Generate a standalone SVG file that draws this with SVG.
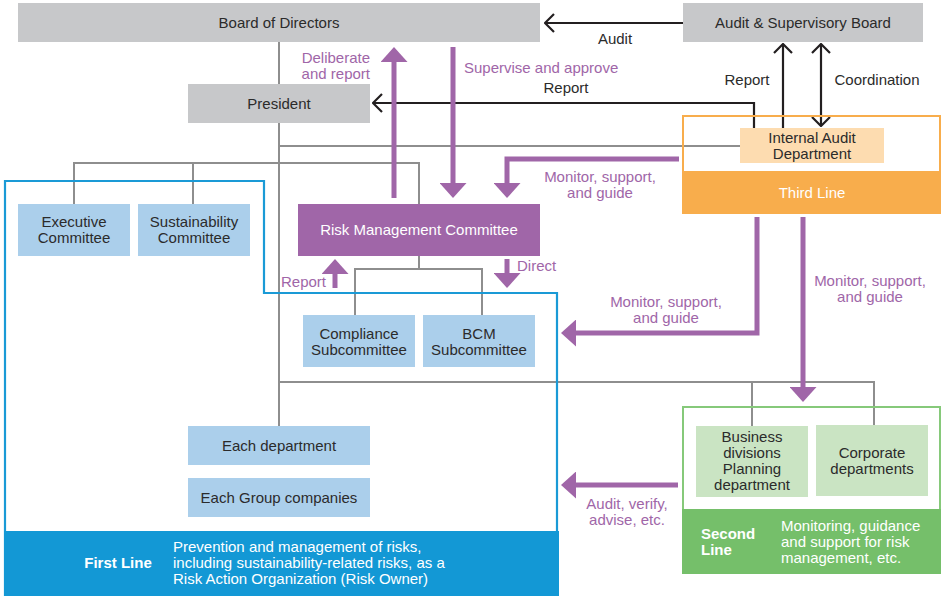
<svg xmlns="http://www.w3.org/2000/svg" width="941" height="596" viewBox="0 0 941 596">
<defs>
<style>
text{font-family:"Liberation Sans",Arial,sans-serif;font-size:15px;fill:#2b2b2b;text-anchor:middle}
.w{fill:#fff}
.p{fill:#a066a8}
.b{font-weight:bold}
.l{text-anchor:start}
.r{text-anchor:end}
.g{fill:#c7c8ca}
.lb{fill:#abcfeb}
.lg{fill:#cae4c3}
.gl{stroke:#8e8e8e;stroke-width:2;fill:none}
.bk{stroke:#231f20;stroke-width:2.2;fill:none}
.pa{stroke:#a066a8;stroke-width:5;fill:none;marker-end:url(#tri)}
</style>
<marker id="chev" viewBox="0 0 11 20" refX="10" refY="10" markerWidth="11" markerHeight="20" markerUnits="userSpaceOnUse" orient="auto-start-reverse">
<path d="M1,1 L10,10 L1,19" fill="none" stroke="#231f20" stroke-width="2.2"/>
</marker>
<marker id="tri" viewBox="0 0 15 27" refX="5" refY="13.5" markerWidth="15" markerHeight="27" markerUnits="userSpaceOnUse" orient="auto">
<path d="M0,0 L15,13.5 L0,27 Z" fill="#a066a8"/>
</marker>
</defs>
<rect width="941" height="596" fill="#fff"/>

<g id="connectors">
<path class="gl" d="M279,42 V426"/>
<path class="gl" d="M279,146 H740"/>
<path class="gl" d="M74,204 V163 H419 V204 M193,163 V204"/>
<path class="gl" d="M419,256 V269 M355,315 V269 H482 V315"/>
<path class="gl" d="M279,382 H874 V426 M752,382 V426"/>
<path class="bk" d="M683,23 H545" marker-end="url(#chev)"/>
<path class="bk" d="M754,128 V103 H373" marker-end="url(#chev)"/>
<path class="bk" d="M783,128 V44" marker-end="url(#chev)"/>
<path class="bk" d="M821,44 V126" marker-start="url(#chev)" marker-end="url(#chev)"/>
<path class="pa" d="M394,198 V57"/>
<path class="pa" d="M453,47 V188"/>
<path class="pa" d="M679,159 H507 V188"/>
<path class="pa" d="M335,288 V269"/>
<path class="pa" d="M507,259 V278"/>
<path class="pa" d="M757,217 V333 H571"/>
<path class="pa" d="M803,217 V392"/>
<path class="pa" d="M678,485 H571"/>
</g>

<g id="first-line">
<path d="M5,596 V181 H264 V293 H557 V596" fill="none" stroke="#1a9ad6" stroke-width="2.2"/>
<rect x="4" y="531" width="555" height="65" fill="#1398d5"/>
<text class="w b" x="118" y="568">First Line</text>
<text class="w l" x="173" y="552">Prevention and management of risks,</text>
<text class="w l" x="173" y="568">including sustainability-related risks, as a</text>
<text class="w l" x="173" y="584">Risk Action Organization (Risk Owner)</text>
</g>

<g id="third-line">
<rect x="683" y="116" width="257" height="97" fill="none" stroke="#f8ad4c" stroke-width="2"/>
<rect x="682" y="171" width="259" height="43" fill="#f8ad4c"/>
<text class="w" x="812" y="198">Third Line</text>
</g>

<g id="second-line">
<rect x="683" y="407" width="257" height="166" fill="none" stroke="#86c97a" stroke-width="2"/>
<rect x="682" y="509" width="259" height="65" fill="#75bf6a"/>
<text class="w b l" x="701" y="539">Second</text>
<text class="w b l" x="701" y="555">Line</text>
<text class="w l" x="781" y="531">Monitoring, guidance</text>
<text class="w l" x="781" y="547">and support for risk</text>
<text class="w l" x="781" y="563">management, etc.</text>
</g>

<g id="board"><rect class="g" x="18" y="3" width="522" height="39"/><text x="279" y="28">Board of Directors</text></g>
<g id="asb"><rect class="g" x="683" y="3" width="240" height="39"/><text x="803" y="28">Audit &amp; Supervisory Board</text></g>
<g id="president"><rect class="g" x="188" y="84" width="182" height="39"/><text x="279" y="109">President</text></g>
<g id="internal-audit"><rect x="740" y="128" width="144" height="35" fill="#fddcb0"/><text x="812" y="143">Internal Audit</text><text x="812" y="159">Department</text></g>
<g id="executive"><rect class="lb" x="18" y="204" width="112" height="52"/><text x="74" y="227">Executive</text><text x="74" y="243">Committee</text></g>
<g id="sustainability"><rect class="lb" x="138" y="204" width="112" height="52"/><text x="194" y="227">Sustainability</text><text x="194" y="243">Committee</text></g>
<g id="rmc"><rect x="298" y="204" width="242" height="52" fill="#a066a8"/><text class="w" x="419" y="235">Risk Management Committee</text></g>
<g id="compliance"><rect class="lb" x="303" y="315" width="112" height="52"/><text x="359" y="339">Compliance</text><text x="359" y="355">Subcommittee</text></g>
<g id="bcm"><rect class="lb" x="423" y="315" width="112" height="52"/><text x="479" y="339">BCM</text><text x="479" y="355">Subcommittee</text></g>
<g id="each-dept"><rect class="lb" x="188" y="426" width="182" height="39"/><text x="279" y="451">Each department</text></g>
<g id="each-group"><rect class="lb" x="188" y="478" width="182" height="39"/><text x="279" y="503">Each Group companies</text></g>
<g id="business"><rect class="lg" x="696" y="426" width="112" height="71"/><text x="752" y="442">Business</text><text x="752" y="458">divisions</text><text x="752" y="474">Planning</text><text x="752" y="490">department</text></g>
<g id="corporate"><rect class="lg" x="816" y="425" width="112" height="71"/><text x="872" y="458">Corporate</text><text x="872" y="474">departments</text></g>

<g id="labels">
<text x="615" y="44">Audit</text>
<text x="566" y="93">Report</text>
<text x="747" y="85">Report</text>
<text x="877" y="85">Coordination</text>
<text class="p r" x="370" y="63">Deliberate</text>
<text class="p r" x="370" y="79">and report</text>
<text class="p l" x="464" y="73">Supervise and approve</text>
<text class="p" x="600" y="182">Monitor, support,</text>
<text class="p" x="600" y="198">and guide</text>
<text class="p r" x="326" y="287">Report</text>
<text class="p l" x="517" y="271">Direct</text>
<text class="p" x="666" y="307">Monitor, support,</text>
<text class="p" x="666" y="323">and guide</text>
<text class="p" x="870" y="286">Monitor, support,</text>
<text class="p" x="870" y="302">and guide</text>
<text class="p" x="627" y="509">Audit, verify,</text>
<text class="p" x="627" y="525">advise, etc.</text>
</g>
</svg>
